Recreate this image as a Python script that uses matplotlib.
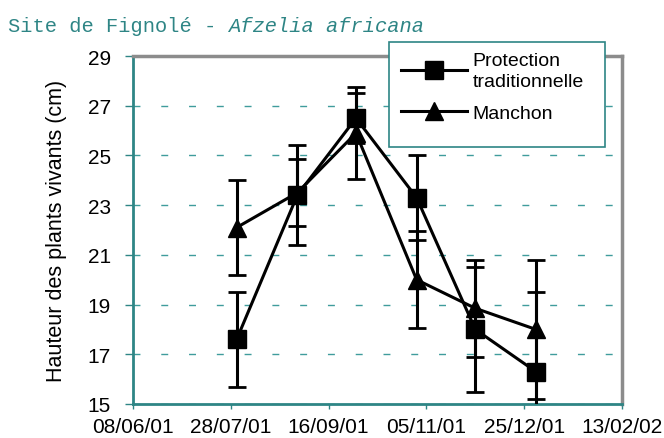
import matplotlib
matplotlib.use("Agg")
import matplotlib.pyplot as plt
import matplotlib.dates as mdates
from matplotlib.lines import Line2D
from matplotlib.patches import Rectangle
import pandas as pd

# data
dates = pd.to_datetime(["2001-07-31", "2001-08-31", "2001-09-30",
                        "2001-10-31", "2001-11-30", "2001-12-31"])
protection = [17.6, 23.4, 26.5, 23.3, 18.0, 16.3]
protection_err = [1.9, 2.0, 1.0, 1.7, 2.5, 3.2]
manchon = [22.1, 23.5, 25.9, 20.0, 18.85, 18.0]
manchon_err = [1.9, 1.35, 1.85, 1.95, 1.95, 2.8]
labels = ["Protection\ntraditionnelle", "Manchon"]
y_ticks = [15, 17, 19, 21, 23, 25, 27, 29]

teal = "#2e8585"
grid_teal = "#3f9c9c"

plt.rcParams['font.family'] = ['Liberation Sans', 'DejaVu Sans']

fig = plt.figure(figsize=(6.64, 4.39), dpi=100)
ax = fig.add_axes([133 / 664, 1 - 405 / 439, 489 / 664, 348 / 439])

ax.errorbar(dates, protection, yerr=protection_err, color="black", lw=2.2,
            marker="s", ms=12.5, capsize=6.5, capthick=2, elinewidth=2.2, zorder=3)
ax.errorbar(dates, manchon, yerr=manchon_err, color="black", lw=2.2,
            marker="^", ms=13.5, capsize=6.5, capthick=2, elinewidth=2.2, zorder=4)

ax.set_ylim(15, 29)
ax.set_yticks(y_ticks)
ax.set_xlim(pd.Timestamp("2001-06-08"), pd.Timestamp("2002-02-13"))
ticks = pd.date_range("2001-06-08", "2002-02-13", freq="50D")
ax.set_xticks(ticks)
ax.xaxis.set_major_formatter(mdates.DateFormatter("%d/%m/%y"))

ax.yaxis.grid(True, linestyle=(0, (5, 15)), color=grid_teal, lw=1)
ax.set_axisbelow(True)

for side in ["left", "bottom"]:
    ax.spines[side].set_color(teal)
    ax.spines[side].set_linewidth(2)
for side in ["top", "right"]:
    ax.spines[side].set_color("#8c8c8c")
    ax.spines[side].set_linewidth(2.5)

ax.tick_params(axis="y", direction="out", length=6, width=1, color=teal,
               labelsize=15, pad=10)
ax.tick_params(axis="x", direction="out", length=3.6, width=1, color=teal,
               labelsize=15, pad=6)

ax.set_ylabel("Hauteur des plants vivants (cm)", fontsize=15.5)
ax.yaxis.set_label_coords(-0.135, 0.5)

# title: normal part + italic species name, monospace font
fs_title = 14.7
fig.text(8 / 664, 1 - 32 / 439, "Site de Fignolé - ", family="Liberation Mono",
         fontsize=fs_title, color=teal, va="baseline")
ax.annotate("Afzelia africana", xy=(8 / 664, 1 - 32 / 439), xycoords="figure fraction",
            xytext=(18 * 0.6 * fs_title, 0), textcoords="offset points",
            family="Liberation Mono", style="italic", fontsize=fs_title,
            color=teal, va="baseline", annotation_clip=False)

# legend box
box = Rectangle((389 / 664, 1 - 148 / 439), 216 / 664, 105 / 439,
                transform=fig.transFigure, facecolor="white", edgecolor=teal,
                lw=1.2, zorder=5)
fig.patches.append(box)
handles = [Line2D([], [], color="black", lw=2.2, marker="s", ms=12.5),
           Line2D([], [], color="black", lw=2.2, marker="^", ms=13.5)]
leg = fig.legend(handles, labels, loc="upper left",
                 bbox_to_anchor=(393 / 664, 1 - 45 / 439), frameon=False,
                 fontsize=14, handlelength=3.4, handletextpad=0.3,
                 labelspacing=0.75, borderaxespad=0)
leg.get_texts()[0].set_linespacing(1.3)
leg.set_zorder(6)

fig.savefig("out.png", dpi=100)
